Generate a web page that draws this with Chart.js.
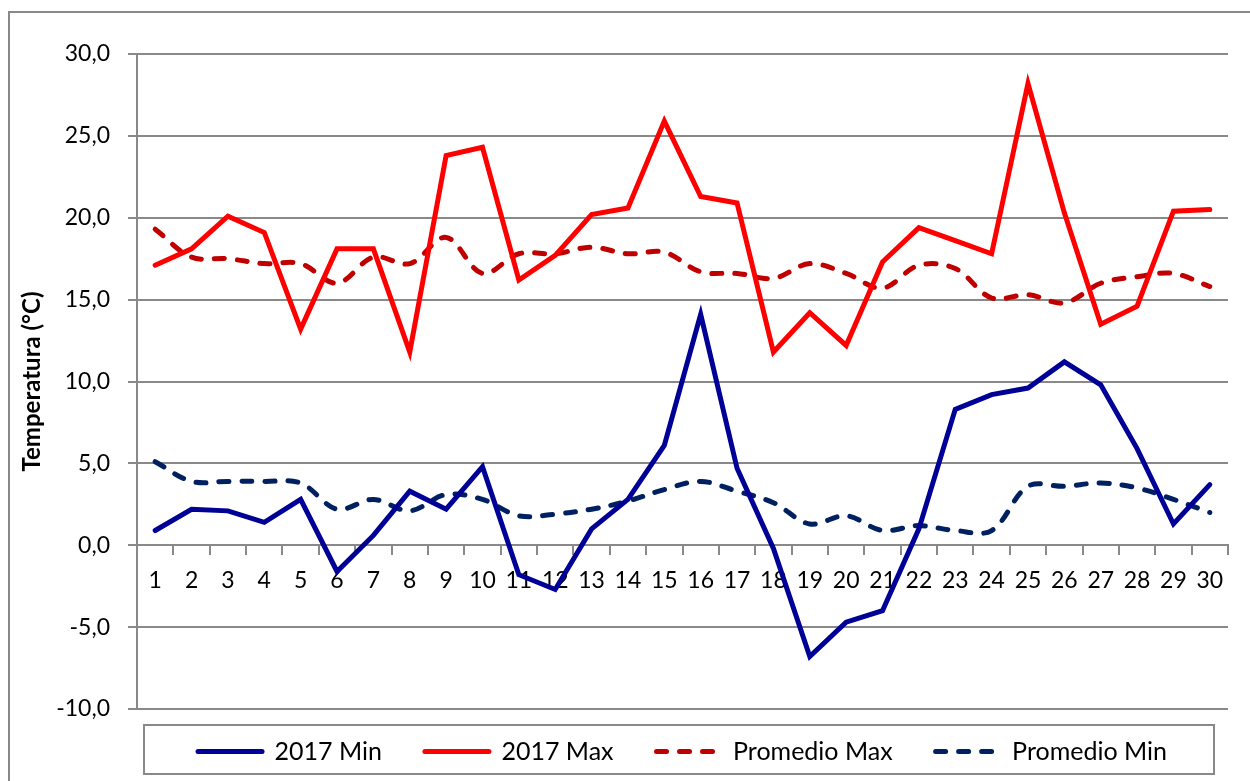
<!DOCTYPE html>
<html>
<head>
<meta charset="utf-8">
<script src="https://cdn.jsdelivr.net/npm/chart.js@4"></script>
<style>
html,body{margin:0;padding:0;background:#fff;}
#wrap{width:1250px;height:781px;position:relative;}
</style>
</head>
<body>
<div id="wrap"><canvas id="c" width="1250" height="781"></canvas></div>
<script>
const days = ['1','2','3','4','5','6','7','8','9','10','11','12','13','14','15','16','17','18','19','20','21','22','23','24','25','26','27','28','29','30'];
const min2017 = [0.9, 2.2, 2.1, 1.4, 2.8, -1.6, 0.6, 3.3, 2.2, 4.8, -1.8, -2.7, 1.0, 2.8, 6.1, 14.1, 4.7, -0.2, -6.8, -4.7, -4.0, 1.0, 8.3, 9.2, 9.6, 11.2, 9.8, 5.9, 1.3, 3.7];
const max2017 = [17.1, 18.1, 20.1, 19.1, 13.2, 18.1, 18.1, 11.8, 23.8, 24.3, 16.2, 17.7, 20.2, 20.6, 25.9, 21.3, 20.9, 11.8, 14.2, 12.2, 17.3, 19.4, 18.6, 17.8, 28.2, 20.3, 13.5, 14.6, 20.4, 20.5];
const promedioMax = [19.3, 17.6, 17.5, 17.2, 17.2, 16.0, 17.6, 17.2, 18.8, 16.6, 17.8, 17.8, 18.2, 17.8, 17.9, 16.7, 16.6, 16.3, 17.2, 16.6, 15.7, 17.1, 16.9, 15.1, 15.3, 14.8, 16.0, 16.4, 16.6, 15.8];
const promedioMin = [5.1, 3.9, 3.9, 3.9, 3.8, 2.2, 2.8, 2.1, 3.1, 2.8, 1.8, 1.9, 2.2, 2.7, 3.4, 3.9, 3.3, 2.6, 1.3, 1.8, 0.9, 1.2, 0.9, 0.9, 3.6, 3.6, 3.8, 3.5, 2.8, 2.0];
const seriesNames = ['2017 Min', '2017 Max', 'Promedio Max', 'Promedio Min'];
const yTicks = [-10, -5, 0, 5, 10, 15, 20, 25, 30];
const yTickLabels = ['-10,0', '-5,0', '0,0', '5,0', '10,0', '15,0', '20,0', '25,0', '30,0'];
const yTitle = 'Temperatura (°C)';

const GRID = '#898989';
const FONT = 'Lato, "Open Sans", sans-serif';
const LEGEND_PAD = 43;
Chart.defaults.font.family = FONT;
Chart.defaults.color = '#000';

const framePlugin = {
  id: 'frame',
  afterLayout(chart) {
    const lg = chart.legend, ca = chart.chartArea;
    if (!lg) return;
    lg.left = ca.left; lg.right = ca.right; lg.width = ca.right - ca.left;
    lg.top = ca.bottom + 30 - LEGEND_PAD; lg.bottom = chart.height; lg.height = lg.bottom - lg.top;
  },
  beforeDraw(chart) {
    const ctx = chart.ctx;
    ctx.save();
    ctx.strokeStyle = GRID;
    ctx.lineWidth = 2;
    ctx.strokeRect(9, 12, 1400, 1000);
    ctx.restore();
  },
  afterDraw(chart) {
    const ctx = chart.ctx, ca = chart.chartArea;
    ctx.save();
    ctx.strokeStyle = GRID;
    ctx.lineWidth = 2;
    ctx.strokeRect(ca.left + 7, ca.bottom + 16, ca.right - ca.left - 21, 49);
    ctx.restore();
  }
};

const solid = (label, data, color) => ({
  label, data, borderColor: color, backgroundColor: color,
  borderWidth: 5, pointRadius: 0, pointHoverRadius: 0, tension: 0,
  borderCapStyle: 'round', borderJoinStyle: 'miter', fill: false
});
const dashed = (label, data, color) => ({
  label, data, borderColor: color, backgroundColor: color,
  borderWidth: 5, pointRadius: 0, pointHoverRadius: 0, tension: 0.35,
  borderDash: [10, 13], borderCapStyle: 'round', borderJoinStyle: 'round', fill: false
});

new Chart(document.getElementById('c'), {
  type: 'line',
  data: {
    labels: days,
    datasets: [
      solid(seriesNames[0], min2017, '#000096'),
      solid(seriesNames[1], max2017, '#FF0000'),
      dashed(seriesNames[2], promedioMax, '#C00000'),
      dashed(seriesNames[3], promedioMin, '#002060')
    ]
  },
  options: {
    responsive: false,
    devicePixelRatio: 1,
    animation: false,
    layout: { padding: { left: 10, right: 22, top: 54, bottom: 10 } },
    plugins: {
      title: { display: false },
      tooltip: { enabled: false },
      legend: {
        display: true,
        position: 'bottom',
        maxHeight: 62,
        labels: {
          usePointStyle: true,
          pointStyle: 'line',
          pointStyleWidth: 64,
          boxHeight: 25,
          padding: LEGEND_PAD,
          color: '#000',
          font: { size: 25 },
          generateLabels(chart) {
            const items = Chart.defaults.plugins.legend.labels.generateLabels(chart);
            return items.map(it => {
              const ds = chart.data.datasets[it.datasetIndex];
              it.lineDash = ds.borderDash || [];
              it.lineCap = ds.borderCapStyle || 'butt';
              it.lineWidth = ds.borderWidth;
              it.strokeStyle = ds.borderColor;
              it.pointStyle = 'line';
              return it;
            });
          }
        }
      }
    },
    scales: {
      x: {
        type: 'category',
        offset: true,
        position: { y: 0 },
        grid: { display: true, drawOnChartArea: false, drawTicks: true, tickLength: 9, offset: true, color: GRID, lineWidth: 2 },
        border: { display: true, color: GRID, width: 2 },
        ticks: { autoSkip: false, maxRotation: 0, minRotation: 0, padding: 13, color: '#000', font: { size: 23 } }
      },
      y: {
        min: yTicks[0],
        max: yTicks[yTicks.length - 1],
        afterBuildTicks(s) { s.ticks = yTicks.map(v => ({ value: v })); },
        afterFit(s) { s.width = 127; },
        ticks: {
          padding: 18, color: '#000', font: { size: 23 },
          callback: (v) => yTickLabels[yTicks.indexOf(v)]
        },
        grid: { color: GRID, lineWidth: 2, tickLength: 9 },
        border: { display: true, color: GRID, width: 2 },
        title: { display: true, text: yTitle, color: '#000', font: { size: 24, weight: 'bold' }, padding: { top: 8, bottom: 0 } }
      }
    }
  },
  plugins: [framePlugin]
});
</script>
</body>
</html>
